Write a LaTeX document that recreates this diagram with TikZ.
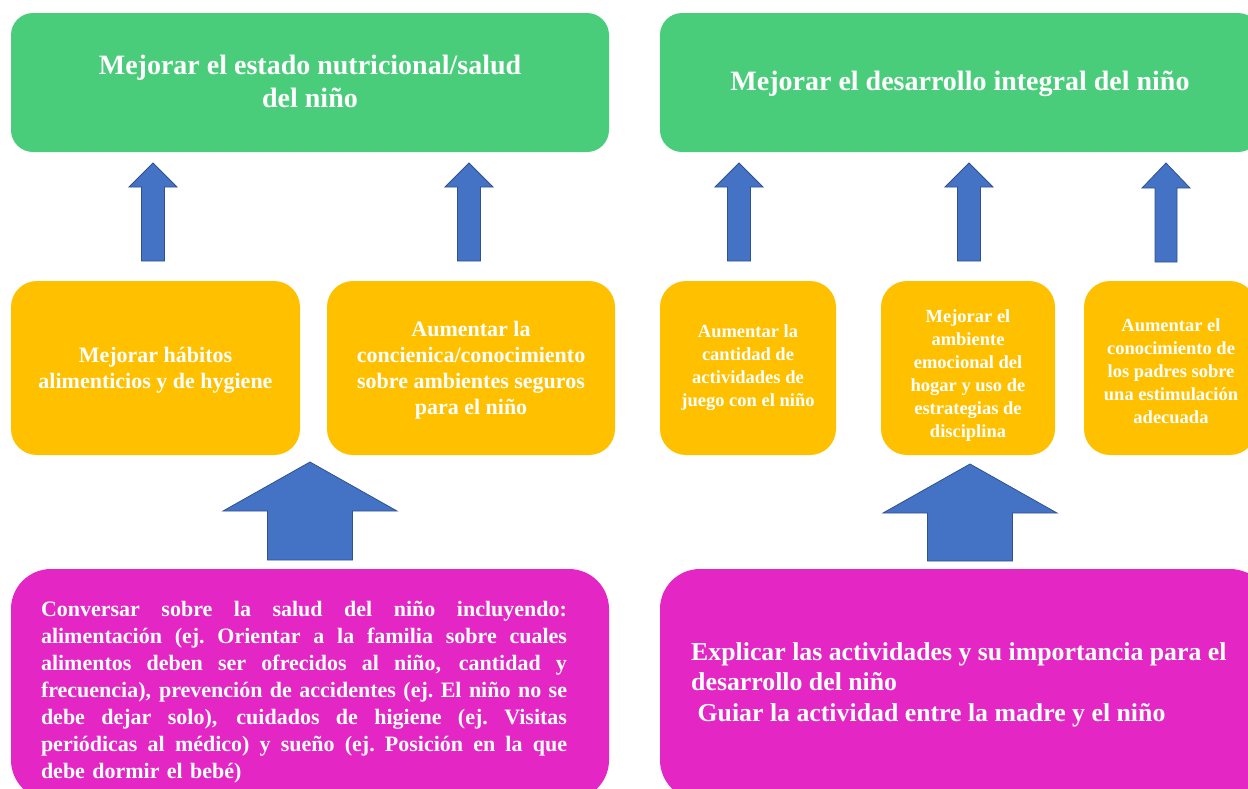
\documentclass[tikz,border=0pt]{standalone}
\usepackage{fontspec}
\setmainfont{Liberation Serif}
\definecolor{cgreen}{RGB}{74,205,122}
\definecolor{corange}{RGB}{255,192,0}
\definecolor{cmagenta}{RGB}{227,38,196}
\definecolor{cblue}{RGB}{68,114,196}
\definecolor{cblueedge}{RGB}{47,82,143}
\newcommand{\blockup}[6]{% cx, tip, base, bottom, headhalf, shafthalf
  \draw[blockarrow] ({#1-#5},#3) -- (#1,#2) -- ({#1+#5},#3) -- ({#1+#6},#3)
    -- ({#1+#6},#4) -- ({#1-#6},#4) -- ({#1-#6},#3) -- cycle;}
\newcommand{\jline}[1]{\leavevmode\hbox to 526pt{\spaceskip=0.25em plus 3em minus 0.05em\xspaceskip=\spaceskip #1}}
\begin{document}
\begin{tikzpicture}[x=1pt,y=-1pt,
  box/.style={inner sep=0pt, outer sep=0pt, draw=none},
  goalbox/.style={box, fill=cgreen, rounded corners=22pt},
  midbox/.style={box, fill=corange, rounded corners=26pt},
  actbox/.style={box, fill=cmagenta, rounded corners=40pt},
  txt/.style={text=white, inner sep=0pt, align=center},
  goaltxt/.style={txt, font=\bfseries\fontsize{28}{33}\selectfont},
  midtxt/.style={txt, font=\bfseries\fontsize{22}{26}\selectfont},
  smalltxt/.style={txt, font=\bfseries\fontsize{18.5}{23}\selectfont},
  blockarrow/.style={fill=cblue, draw=cblueedge, line width=0.8pt, line join=miter}
]
\clip (0,0) rectangle (1248,788);

% goal boxes
\node[goalbox, minimum width=598pt, minimum height=139pt] (g1) at (310,82.5) {};
\node[goalbox, minimum width=600pt, minimum height=139pt] (g2) at (960,82.5) {};
\node[goaltxt] (g1t) at (310,81.5) {Mejorar el estado nutricional/salud\\del niño};
\node[goaltxt] (g2t) at (960,84) {Mejorar el desarrollo integral del niño};

% small arrows
\blockup{153}{163}{187}{261}{24}{11.5}
\blockup{469}{163}{187}{261}{24}{11.5}
\blockup{739}{163}{187}{261}{24}{11.5}
\blockup{969}{163}{187}{261}{24}{11.5}
\blockup{1166}{163}{188}{262}{24}{11}

% middle boxes
\node[midbox, minimum width=289pt, minimum height=174pt] (o1) at (155.5,368) {};
\node[midbox, minimum width=288pt, minimum height=174pt] (o2) at (471,368) {};
\node[midbox, minimum width=176pt, minimum height=174pt] (o3) at (748,368) {};
\node[midbox, minimum width=174pt, minimum height=174pt] (o4) at (968,368) {};
\node[midbox, minimum width=172pt, minimum height=174pt] (o5) at (1170,368) {};

\node[midtxt] (o1t) at (155.5,370.5) {Mejorar hábitos\\alimenticios y de hygiene};
\node[midtxt] (o2t) at (471,370) {Aumentar la\\concienica/conocimiento\\sobre ambientes seguros\\para el niño};
\node[smalltxt] (o3t) at (748,367.5) {Aumentar la\\cantidad de\\actividades de\\juego con el niño};
\node[smalltxt] (o4t) at (968,375.5) {Mejorar el\\ambiente\\emocional del\\hogar y uso de\\estrategias de\\disciplina};
\node[smalltxt] (o5t) at (1171,371) {Aumentar el\\conocimiento de\\los padres sobre\\una estimulación\\adecuada};

% big arrows
\blockup{310}{462}{511}{560}{87}{42.5}
\blockup{970}{464}{513}{561}{87}{42.5}

% activity boxes
\node[actbox, minimum width=598pt, minimum height=231pt] (m1) at (310,684.5) {};
\node[actbox, minimum width=610pt, minimum height=231pt] (m2) at (965,684.5) {};

\node[txt, align=left, text width=526pt, font=\bfseries\fontsize{22}{27}\selectfont]
  (m1t) at (304,692) {%
\jline{Conversar sobre la salud del niño incluyendo:}\\
\jline{alimentación (ej. Orientar a la familia sobre cuales}\\
\jline{alimentos deben ser ofrecidos al niño, cantidad y}\\
\jline{frecuencia), prevención de accidentes (ej. El niño no se}\\
\jline{debe dejar solo), cuidados de higiene (ej. Visitas}\\
\jline{periódicas al médico) y sueño (ej. Posición en la que}\\
debe dormir el bebé)};

\node[txt, align=left, anchor=west, font=\bfseries\fontsize{25.8}{30.5}\selectfont] (m2t) at (691,684.5) {%
Explicar las actividades y su importancia para el\\
desarrollo del niño\\
\hspace*{0.25em}Guiar la actividad entre la madre y el niño};
\end{tikzpicture}
\end{document}
